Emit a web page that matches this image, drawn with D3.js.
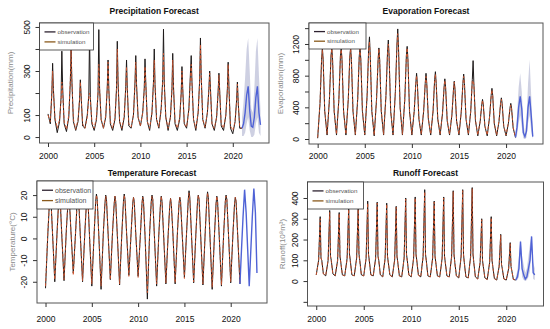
<!DOCTYPE html>
<html>
<head>
<meta charset="utf-8">
<script src="https://cdnjs.cloudflare.com/ajax/libs/d3/7.8.5/d3.min.js"></script>
<style>
body { margin: 0; background: #fff; }
svg { display: block; font-family: "Liberation Sans", Arial, sans-serif; }
</style>
</head>
<body>
<script>
// years of record and the months sampled inside each year (Jan, Apr, Jun, Jul, Aug, Oct)
const years = d3.range(2000, 2021);
const months = [0, 3, 5, 6, 7, 9];
// forecast months counted from Jan 2021
const fcMonths = [0, 2, 4, 6, 8, 10, 12, 14, 16, 18, 20, 22, 24];
const xTicks = [2000, 2005, 2010, 2015, 2020];

// ---- precipitation (mm)
const precipObs = [
  [105, 60, 200, 335, 220, 80], [20, 70, 180, 390, 230, 60], [25, 90, 250, 400, 260, 70],
  [30, 70, 170, 260, 190, 50], [40, 100, 190, 470, 180, 60], [30, 80, 200, 488, 220, 80],
  [40, 90, 230, 350, 220, 60], [30, 80, 220, 435, 250, 70], [30, 90, 230, 350, 220, 50],
  [40, 100, 250, 370, 240, 90], [50, 110, 220, 355, 250, 70], [30, 110, 250, 400, 240, 80],
  [40, 130, 260, 490, 250, 90], [30, 90, 220, 380, 230, 60], [30, 80, 200, 320, 220, 60],
  [40, 130, 290, 370, 250, 80], [30, 110, 260, 450, 280, 80], [40, 110, 220, 300, 220, 60],
  [30, 90, 210, 290, 210, 50], [30, 100, 220, 340, 230, 40], [15, 70, 170, 250, 160, 40]
];
const precipSim = [
  [100, 70, 200, 300, 210, 90], [40, 80, 170, 250, 200, 70], [35, 100, 260, 400, 250, 80],
  [35, 80, 170, 250, 180, 60], [40, 90, 180, 200, 170, 70], [40, 90, 210, 330, 220, 80],
  [40, 100, 220, 340, 210, 70], [40, 90, 220, 400, 240, 70], [40, 100, 220, 320, 210, 60],
  [45, 100, 240, 340, 230, 90], [50, 110, 210, 320, 240, 70], [40, 110, 240, 350, 230, 80],
  [45, 120, 250, 380, 240, 90], [40, 90, 210, 350, 220, 70], [40, 90, 200, 300, 210, 60],
  [45, 120, 270, 330, 240, 80], [40, 110, 250, 420, 270, 80], [45, 110, 210, 290, 210, 60],
  [40, 90, 200, 280, 200, 60], [40, 100, 210, 330, 220, 50], [30, 70, 160, 240, 160, 45]
];
const precipLast = 40;
const precipFc = [40, 60, 110, 190, 230, 120, 50, 45, 90, 180, 230, 110, 55];
const precipFcHi = [90, 160, 270, 400, 450, 300, 130, 110, 220, 390, 450, 280, 120];
const precipFcLo = [5, 5, 20, 60, 90, 30, 0, 0, 10, 60, 90, 20, 5];

// ---- evaporation (mm)
const evapObs = [
  [10, 450, 1000, 1150, 1000, 350], [50, 500, 1050, 1150, 1000, 350], [50, 500, 1050, 1150, 1000, 350],
  [50, 500, 1050, 1150, 1000, 350], [50, 500, 1050, 1150, 1000, 350], [50, 550, 1150, 1290, 1050, 350],
  [40, 500, 1000, 1150, 1000, 350], [50, 550, 1100, 1250, 1050, 350], [50, 600, 1200, 1390, 1150, 400],
  [50, 500, 1050, 1170, 1000, 350], [50, 350, 700, 830, 700, 250], [50, 350, 700, 830, 700, 250],
  [50, 350, 750, 850, 700, 250], [50, 320, 650, 760, 650, 230], [50, 300, 620, 730, 620, 220],
  [50, 350, 700, 820, 700, 250], [50, 350, 750, 990, 700, 230], [40, 220, 430, 500, 430, 160],
  [40, 280, 550, 640, 550, 190], [40, 220, 450, 520, 450, 160], [40, 200, 390, 450, 390, 140]
];
const evapSim = [
  [20, 460, 990, 1130, 990, 360], [60, 510, 1040, 1140, 990, 360], [60, 490, 1040, 1130, 990, 360],
  [60, 510, 1040, 1140, 990, 360], [60, 500, 1040, 1140, 990, 360], [60, 540, 1120, 1230, 1040, 360],
  [50, 500, 1000, 1140, 990, 360], [60, 540, 1090, 1200, 1040, 360], [60, 590, 1180, 1330, 1130, 400],
  [60, 500, 1040, 1150, 990, 360], [60, 360, 700, 800, 690, 260], [60, 360, 700, 790, 690, 260],
  [60, 360, 740, 820, 690, 260], [60, 330, 650, 740, 640, 240], [60, 310, 620, 720, 610, 230],
  [60, 360, 700, 790, 690, 260], [60, 350, 730, 740, 690, 240], [50, 230, 430, 490, 430, 170],
  [50, 280, 540, 620, 540, 200], [50, 230, 450, 500, 440, 170], [50, 210, 390, 430, 380, 150]
];
const evapLast = 20;
const evapFc = [20, 150, 400, 540, 380, 80, 30, 100, 400, 540, 300, 30];
const evapFcHi = [60, 300, 650, 830, 600, 200, 80, 250, 700, 1000, 550, 100];
const evapFcLo = [0, 50, 200, 300, 150, 10, 0, 20, 200, 300, 100, 0];

// ---- temperature (°C)
const tempObs = [
  [-23, 2, 16, 20, 18, 3], [-20, 3, 17, 20, 18, 2], [-19.5, 4, 16, 20, 17, 3],
  [-16, 3, 17, 20, 18, 2], [-20, 3, 16, 20, 18, 1], [-22, 2, 17, 20.5, 18, 2],
  [-23.5, 3, 16, 20, 18, 3], [-19, 4, 16, 19.5, 17, 2], [-21.5, 3, 17, 20.5, 18, 3],
  [-17, 3, 16, 19, 17, 2], [-17.5, 2, 16, 19.5, 17, 1], [-28, 3, 17, 20, 18, 2],
  [-22, 3, 16, 19.5, 17, 2], [-21, 2, 15, 18.5, 16, 3], [-21, 3, 16, 19, 17, 3],
  [-18, 4, 18, 22, 19, 3], [-20.5, 3, 17, 20, 18, 2], [-21.5, 3, 18, 21.5, 19, 2],
  [-23.5, 2, 16, 19.5, 17, 2], [-22, 3, 17, 20, 18, 3], [-20.5, 3, 16, 19, 17, 2]
];
const tempSim = [
  [-22, 3, 16, 19.5, 18, 3], [-19, 3, 16, 19.5, 18, 3], [-19, 4, 16, 19.5, 17, 3],
  [-17, 3, 16, 19.5, 17, 2], [-19.5, 3, 16, 19.5, 17, 2], [-21, 3, 16, 20, 18, 2],
  [-22, 3, 16, 19.5, 18, 3], [-19, 4, 16, 19.5, 17, 2], [-21, 3, 16, 20, 18, 3],
  [-17.5, 3, 16, 19, 17, 2], [-18, 2, 16, 19, 17, 2], [-25, 3, 16, 19.5, 18, 2],
  [-21, 3, 16, 19.5, 17, 3], [-20.5, 2, 15, 18.5, 16, 3], [-20.5, 3, 16, 19, 17, 3],
  [-18.5, 4, 17, 21, 18, 3], [-20, 3, 17, 20, 18, 2], [-21, 3, 17, 21, 18, 2],
  [-22.5, 2, 16, 19.5, 17, 2], [-21.5, 3, 17, 19.5, 18, 3], [-20, 3, 16, 19, 17, 2]
];
const tempLast = -21;
const tempFc = [-21, -5, 10, 22.5, 12, -5, -22, -6, 10, 23, 12, -16];

// ---- runoff (10^8 m^3)
const runoffObs = [
  [30, 100, 310, 110, 100, 35], [25, 100, 340, 120, 100, 35], [25, 100, 330, 120, 90, 30],
  [25, 110, 350, 130, 100, 30], [25, 110, 350, 130, 100, 30], [25, 110, 385, 130, 100, 30],
  [25, 110, 380, 120, 100, 30], [20, 110, 375, 120, 90, 30], [20, 100, 360, 120, 90, 25],
  [20, 110, 400, 130, 100, 30], [20, 110, 405, 130, 100, 30], [20, 120, 440, 130, 100, 25],
  [20, 110, 385, 120, 90, 25], [20, 110, 405, 120, 90, 25], [20, 120, 435, 130, 90, 25],
  [15, 120, 440, 130, 90, 20], [15, 120, 450, 130, 90, 20], [10, 90, 300, 100, 70, 15],
  [8, 90, 310, 100, 70, 12], [5, 70, 225, 80, 60, 10], [5, 60, 185, 70, 50, 8]
];
const runoffSim = [
  [30, 95, 300, 115, 95, 35], [28, 100, 330, 120, 95, 35], [28, 100, 325, 115, 90, 30],
  [26, 105, 345, 125, 95, 30], [26, 105, 345, 125, 95, 30], [25, 110, 375, 125, 95, 30],
  [25, 105, 375, 120, 95, 30], [22, 105, 370, 120, 90, 28], [22, 100, 355, 115, 90, 25],
  [22, 110, 395, 125, 95, 28], [22, 110, 400, 125, 95, 28], [20, 115, 430, 125, 95, 25],
  [20, 110, 380, 120, 90, 25], [20, 110, 400, 120, 90, 25], [20, 115, 430, 125, 90, 25],
  [16, 115, 435, 125, 90, 20], [16, 115, 445, 125, 90, 20], [10, 90, 295, 100, 70, 15],
  [8, 88, 305, 100, 70, 12], [6, 70, 220, 80, 60, 10], [5, 60, 180, 70, 50, 8]
];
const runoffLast = 5;
const runoffFc = [5, 20, 60, 190, 60, 30, 10, 20, 60, 100, 215, 40, 30];
const runoffFcHi = [20, 50, 120, 200, 120, 80, 40, 60, 120, 180, 220, 90, 60];
const runoffFcLo = [0, 5, 20, 150, 20, 5, 0, 5, 20, 50, 180, 10, 5];

const W = 550, H = 329;
const svg = d3.select("body").append("svg").attr("width", W).attr("height", H);

const panels = [
  { id: "p", title: "Precipitation Forecast", ylab: "Precipitation(mm)",
    obs: precipObs, sim: precipSim, last: precipLast, fc: precipFc, hi: precipFcHi, lo: precipFcLo,
    l: 39.5, r: 269, t: 23, b: 143, yDom: [-27, 518], yTicks: [0, 100, 200, 300, 400, 500], yLab: [0, 100, 300, 500],
    titleY: 14, ylabX: 10, legW: 54, legH: 27, legFont: 6.2, xPad: 5.5 },
  { id: "e", title: "Evaporation Forecast", ylab: "Evaporation(mm)",
    obs: evapObs, sim: evapSim, last: evapLast, fc: evapFc, hi: evapFcHi, lo: evapFcLo,
    l: 309, r: 543, t: 23, b: 144, yDom: [-63, 1465], yTicks: [0, 200, 400, 600, 800, 1000, 1200, 1400], yLab: [0, 400, 800, 1200],
    titleY: 14, ylabX: 280, legW: 57, legH: 26, legFont: 6.2, xPad: 5 },
  { id: "t", title: "Temperature Forecast", ylab: "Temperature(\u00b0C)",
    obs: tempObs, sim: tempSim, last: tempLast, fc: tempFc, hi: null, lo: null,
    l: 37, r: 267, t: 181, b: 303, yDom: [-29.8, 26.5], yTicks: [-20, -10, 0, 10, 20], yLab: [-20, -10, 0, 10, 20],
    titleY: 176, ylabX: 12, legW: 56, legH: 28, legFont: 7, xPad: 9 },
  { id: "r", title: "Runoff Forecast", ylab: "Runoff(10\u2078m\u00b3)",
    obs: runoffObs, sim: runoffSim, last: runoffLast, fc: runoffFc, hi: runoffFcHi, lo: runoffFcLo,
    l: 307.5, r: 543.5, t: 182, b: 306, yDom: [-120, 477], yTicks: [-100, 0, 100, 200, 300, 400], yLab: [0, 100, 200, 300, 400],
    titleY: 176, ylabX: 282, legW: 56, legH: 27, legFont: 6.2, xPad: 5.5 }
];

function toPoints(arr, last) {
  const pts = [];
  arr.forEach((vals, i) => vals.forEach((v, j) => pts.push({ t: years[i] + months[j] / 12, v: v })));
  pts.push({ t: 2021, v: last });
  return pts;
}

panels.forEach(p => {
  const x = d3.scaleLinear().domain([1999.08, 2023.92]).range([p.l, p.r]);
  const y = d3.scaleLinear().domain(p.yDom).range([p.b, p.t]);
  const g = svg.append("g");

  g.append("clipPath").attr("id", "clip-" + p.id)
    .append("rect").attr("x", p.l).attr("y", p.t).attr("width", p.r - p.l).attr("height", p.b - p.t);
  const plot = g.append("g").attr("clip-path", `url(#clip-${p.id})`);

  const line = d3.line().x(d => x(d.t)).y(d => y(d.v));
  const fcPts = p.fc.map((v, i) => ({ t: 2021 + fcMonths[i] / 12, v: v,
    hi: p.hi ? p.hi[i] : v, lo: p.lo ? p.lo[i] : v }));

  // forecast uncertainty band
  if (p.hi) {
    plot.append("path").datum(fcPts)
      .attr("d", d3.area().x(d => x(d.t)).y0(d => y(d.lo)).y1(d => y(d.hi)))
      .attr("fill", "#aeb1cf").attr("opacity", 0.6);
  }

  plot.append("path").datum(toPoints(p.obs, p.last))
    .attr("d", line).attr("fill", "none").attr("stroke", "#1e1a1a").attr("stroke-width", 1);
  plot.append("path").datum(toPoints(p.sim, p.last))
    .attr("d", line).attr("fill", "none").attr("stroke", "#d2552e")
    .attr("stroke-width", 0.9).attr("stroke-dasharray", "3,2");

  plot.append("path").datum(fcPts)
    .attr("d", line).attr("fill", "none").attr("stroke", "#4f62d6").attr("stroke-width", 1.4);

  // frame
  g.append("rect").attr("x", p.l).attr("y", p.t).attr("width", p.r - p.l).attr("height", p.b - p.t)
    .attr("fill", "none").attr("stroke", "#555").attr("stroke-width", 1);

  // x axis
  const xa = g.append("g").attr("transform", `translate(0,${p.b})`)
    .call(d3.axisBottom(x).tickValues(xTicks).tickSize(4).tickPadding(p.xPad).tickFormat(d3.format("d")));
  xa.select(".domain").remove();
  xa.selectAll("line").attr("stroke", "#333");
  xa.selectAll("text").attr("font-size", 8.5).attr("fill", "#111").attr("font-family", null);

  // y axis, labels rotated as in R
  const ya = g.append("g").attr("transform", `translate(${p.l},0)`)
    .call(d3.axisLeft(y).tickValues(p.yTicks).tickSize(4)
      .tickFormat(d => p.yLab.includes(d) ? d : ""));
  ya.select(".domain").remove();
  ya.selectAll("line").attr("stroke", "#333");
  ya.selectAll("text")
    .attr("transform", "rotate(-90)").attr("x", 0).attr("y", -10).attr("dy", 0)
    .attr("text-anchor", "middle").attr("font-size", 8.5).attr("fill", "#111").attr("font-family", null);

  // titles
  g.append("text").attr("x", (p.l + p.r) / 2).attr("y", p.titleY).attr("text-anchor", "middle")
    .attr("font-size", 8.5).attr("font-weight", "bold").attr("fill", "#111").text(p.title);
  g.append("text").attr("transform", `translate(${p.ylabX},${(p.t + p.b) / 2}) rotate(-90)`)
    .attr("text-anchor", "middle").attr("dy", "0.35em").attr("font-size", 8).attr("fill", "#8a8a8a").text(p.ylab);

  // legend
  const lg = g.append("g").attr("transform", `translate(${p.l},${p.t})`);
  lg.append("rect").attr("width", p.legW).attr("height", p.legH)
    .attr("fill", "#fff").attr("stroke", "#333").attr("stroke-width", 0.8);
  [["observation", "#2e2230"], ["simulation", "#8a5a1c"]].forEach((it, i) => {
    const yy = p.legH * (0.33 + 0.37 * i);
    lg.append("line").attr("x1", 5).attr("x2", 16).attr("y1", yy).attr("y2", yy)
      .attr("stroke", it[1]).attr("stroke-width", 1.3);
    lg.append("text").attr("x", 18).attr("y", yy).attr("dy", "0.35em")
      .attr("font-size", p.legFont).attr("fill", "#555").text(it[0]);
  });
});
</script>
</body>
</html>
